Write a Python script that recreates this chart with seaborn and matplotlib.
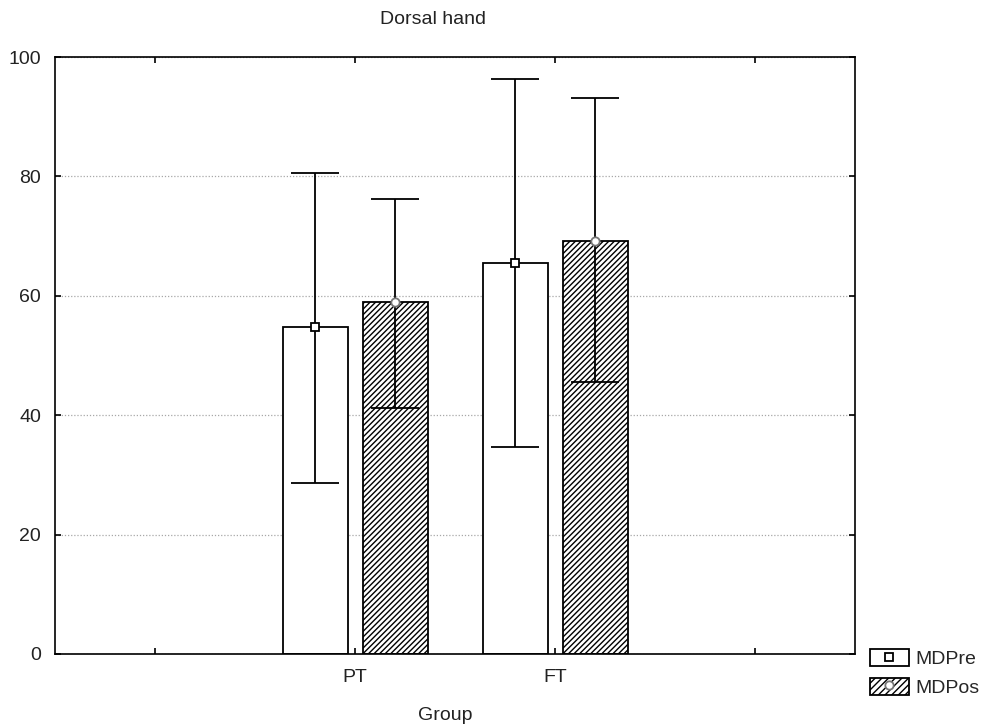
import matplotlib
matplotlib.use("Agg")
import matplotlib.pyplot as plt
import seaborn as sns
import pandas as pd
from matplotlib.patches import Patch
from matplotlib.lines import Line2D
from matplotlib.legend_handler import HandlerTuple

# ---- data ----
groups = ["PT", "FT"]
slots = [" ", "PT", "FT", "  "]
series = ["MDPre", "MDPos"]
mdpre_mean = [54.8, 65.5]
mdpre_low = [28.6, 34.7]
mdpre_high = [80.6, 96.3]
mdpos_mean = [59.0, 69.2]
mdpos_low = [41.2, 45.6]
mdpos_high = [76.2, 93.1]
yticks = [0, 20, 40, 60, 80, 100]

df = pd.DataFrame({
    "Group": groups * 2,
    "Series": [series[0]] * 2 + [series[1]] * 2,
    "Value": mdpre_mean + mdpos_mean,
})

sns.set_style("white")
plt.rcParams["font.family"] = ["Liberation Sans", "DejaVu Sans"]
plt.rcParams["hatch.linewidth"] = 1.0

FS = 14

fig = plt.figure(figsize=(9.83, 7.27), dpi=100)
ax = fig.add_axes([55 / 983, 1 - 654 / 727, 800 / 983, 597 / 727])

sns.barplot(data=df, x="Group", y="Value", hue="Series", order=slots,
            hue_order=series, width=0.8, gap=0.1875, errorbar=None,
            ax=ax, legend=False, linewidth=1.3, edgecolor="black")

hatches = [None, "//////"]
lows = [mdpre_low, mdpos_low]
highs = [mdpre_high, mdpos_high]
means = [mdpre_mean, mdpos_mean]
mstyle = [dict(marker="s", mec="black"), dict(marker="o", mec="#777777")]
bar_containers = list(ax.containers)
for i, cont in enumerate(bar_containers):
    xs = []
    for p in cont.patches:
        p.set_facecolor("white")
        p.set_edgecolor("black")
        p.set_linewidth(1.3)
        if hatches[i]:
            p.set_hatch(hatches[i])
        xs.append(p.get_x() + p.get_width() / 2)
    for j, x in enumerate(xs):
        m = means[i][j]
        ax.errorbar([x], [m], yerr=[[m - lows[i][j]], [highs[i][j] - m]],
                    fmt="none", ecolor="black", elinewidth=1.3,
                    capsize=17, capthick=1.3, zorder=3)
        ax.plot([x], [m], linestyle="none", markersize=6, mfc="white",
                mew=1.3, zorder=4, **mstyle[i])

ax.set_xlim(-0.5, 3.5)
ax.set_ylim(0, 100)
ax.set_yticks(yticks)
ax.set_xticks(range(len(slots)))
ax.set_xticklabels(["", "PT", "FT", ""])
ax.set_xlabel("")
ax.set_ylabel("")
ax.yaxis.grid(True, linestyle=(0, (1, 1.5)), color="#a8a8a8", linewidth=0.9)
ax.set_axisbelow(True)
for s in ax.spines.values():
    s.set_visible(True)
    s.set_color("black")
    s.set_linewidth(1.2)
ax.tick_params(axis="both", direction="in", length=4, width=1.2,
               colors="black", labelsize=FS, top=True, bottom=True,
               left=True, right=True)
ax.tick_params(axis="y", pad=10)
ax.tick_params(axis="x", pad=11)
for lbl in ax.get_xticklabels() + ax.get_yticklabels():
    lbl.set_color("#222222")

fig.text(433 / 983, 1 - 19 / 727, "Dorsal hand", ha="center", va="center",
         fontsize=FS, color="#222222")
fig.text(445 / 983, 1 - 716 / 727, "Group", ha="center", va="center",
         fontsize=FS, color="#222222")

h1 = (Patch(facecolor="white", edgecolor="black", linewidth=1.3),
      Line2D([], [], marker="s", linestyle="none", markersize=6,
             mfc="white", mec="black", mew=1.3))
h2 = (Patch(facecolor="white", edgecolor="black", linewidth=1.3, hatch="/////"),
      Line2D([], [], marker="o", linestyle="none", markersize=6,
             mfc="white", mec="#777777", mew=1.3))
fig.legend([h1, h2], series, handler_map={tuple: HandlerTuple(ndivide=1)},
           loc="upper left", bbox_to_anchor=(870 / 983, 1 - 649 / 727),
           frameon=False, fontsize=FS, handlelength=2.0, handleheight=0.95,
           handletextpad=0.35, labelspacing=0.5, borderaxespad=0,
           borderpad=0)

fig.savefig("out.png", dpi=100)
